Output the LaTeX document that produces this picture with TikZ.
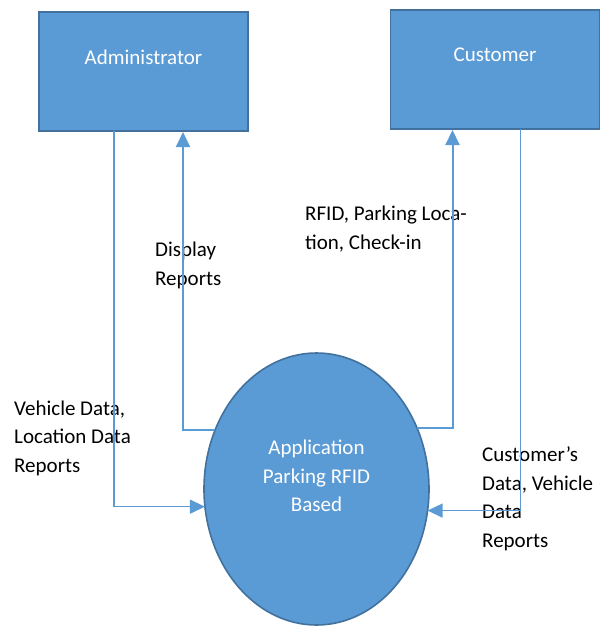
\documentclass[tikz,border=0pt]{standalone}
\usepackage{fontspec}
\setmainfont{Carlito}
\usetikzlibrary{shapes.geometric, arrows.meta, positioning, calc}
\definecolor{boxblue}{RGB}{91, 155, 213}
\definecolor{edgeblue}{RGB}{65, 113, 156}

\begin{document}
\begin{tikzpicture}[x=1pt, y=-1pt,
  entity/.style={draw=edgeblue, fill=boxblue, line width=1.6pt, minimum width=209pt, minimum height=119pt, inner sep=0pt, outer sep=0pt},
  boxtext/.style={text=white, font=\fontsize{21}{28.5}\selectfont, align=center},
  lbl/.style={font=\fontsize{21}{28.5}\selectfont, align=left, inner sep=0pt, anchor=base west},
  flow/.style={draw=boxblue, line width=1.3pt, -{Triangle[width=14pt, length=15pt]}},
  flowup/.style={flow, line width=2pt}]
  \useasboundingbox (0,0) rectangle (606,627);

  % External entities
  \node[entity] (admin) at (143.5,71.5) {};
  \node[boxtext] (admintxt) at ([yshift=14.5pt]admin.center) {Administrator};
  \node[entity] (cust) at (495,69.5) {};
  \node[boxtext] (custtxt) at ([yshift=14.5pt]cust.center) {Customer};

  % Process
  \node[ellipse, draw=edgeblue, fill=boxblue, line width=1.6pt, minimum width=225pt, minimum height=272pt, inner sep=0pt, outer sep=0pt] (app) at (316.5,489) {};
  \node[boxtext] (apptxt) at ([yshift=13pt]app.center) {Application\\Parking RFID\\Based};

  % Flow labels (base = last line)
  \node[lbl] (vehlbl) at (14,472) {Vehicle Data,\\Location Data\\Reports};
  \node[lbl] (displbl) at (155,285) {Display\\Reports};
  \node[lbl] (rfidlbl) at (305,249) {RFID, Parking Loca-\\tion, Check-in};
  \node[lbl] (custlbl) at (482,547) {Customer’s\\Data, Vehicle\\Data\\Reports};

  % Connector ends on the boxes
  \coordinate (adminout) at ([xshift=75pt]admin.south west);
  \coordinate (adminin) at ([xshift=144pt]admin.south west);
  \coordinate (custin) at ([xshift=62pt]cust.south west);
  \coordinate (custout) at ([xshift=130pt]cust.south west);

  % Data flows
  \draw[flow] (adminout) |- (app.189);
  \draw[flowup, shorten >=1pt] (app.150) -| (adminin);
  \draw[flowup, shorten >=1pt] (app.31) -| (custin);
  \draw[flow] (custout) |- (app.349);
\end{tikzpicture}
\end{document}
